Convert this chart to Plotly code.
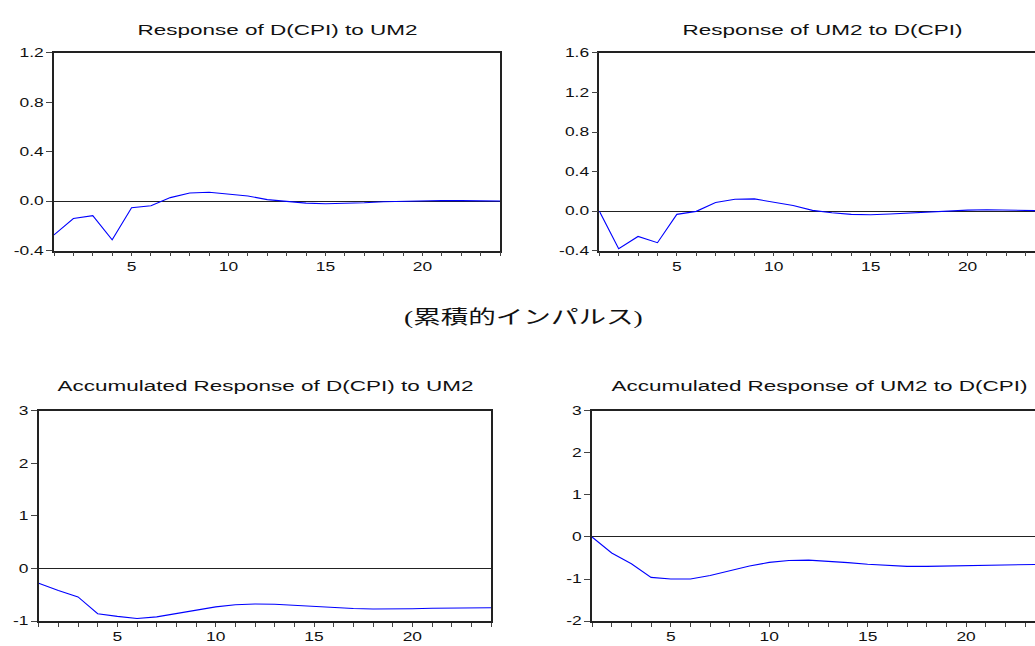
import plotly.graph_objects as go

# Forecast horizon (periods)
periods = list(range(1, 25))

# Impulse responses
resp_cpi_to_um2 = [-0.273, -0.14, -0.117, -0.313, -0.053, -0.037, 0.029, 0.066, 0.072, 0.058,
                   0.042, 0.013, -0.003, -0.016, -0.021, -0.019, -0.013, -0.005, 0.0, 0.005,
                   0.006, 0.005, 0.003, 0.001]
resp_um2_to_cpi = [0.0, -0.38, -0.257, -0.32, -0.033, -0.003, 0.087, 0.12, 0.123, 0.09,
                   0.057, 0.007, -0.017, -0.033, -0.037, -0.03, -0.02, -0.007, 0.003, 0.01,
                   0.013, 0.01, 0.007, 0.003]

# Accumulated impulse responses
acc_cpi_to_um2 = [-0.28, -0.42, -0.54, -0.86, -0.91, -0.95, -0.92, -0.86, -0.79, -0.73,
                  -0.69, -0.675, -0.68, -0.70, -0.725, -0.745, -0.76, -0.77, -0.77, -0.765,
                  -0.755, -0.75, -0.745, -0.745]
acc_um2_to_cpi = [0.0, -0.38, -0.636, -0.96, -1.0, -1.0, -0.915, -0.80, -0.69, -0.605,
                  -0.56, -0.55, -0.575, -0.61, -0.65, -0.68, -0.70, -0.70, -0.69, -0.68,
                  -0.67, -0.66, -0.65, -0.65]

titles = ["Response of D(CPI) to UM2", "Response of UM2 to D(CPI)",
          "Accumulated Response of D(CPI) to UM2", "Accumulated Response of UM2 to D(CPI)"]
caption = "(累積的インパルス)"

y_ticks_top_left = [-0.4, 0.0, 0.4, 0.8, 1.2]
y_ticks_top_right = [-0.4, 0.0, 0.4, 0.8, 1.2, 1.6]
y_ticks_bottom_left = [-1, 0, 1, 2, 3]
y_ticks_bottom_right = [-2, -1, 0, 1, 2, 3]

W, H = 1035, 646

def px_x(v):
    return v / W

def px_y(v):
    return 1 - v / H

# panel boxes in pixels: (left, right, top, bottom)
boxes = [
    (54, 500, 47, 249),
    (599.3, 1035, 47, 249),
    (38.7, 491, 412.7, 627.7),
    (592, 1035, 412.7, 627.7),
]
x_ranges = [[1, 24], [1, 23.48], [1, 24], [1, 23.5]]
y_ranges = [[-0.4, 1.2], [-0.4, 1.6], [-1, 3], [-2, 3]]
y_tickvals = [y_ticks_top_left, y_ticks_top_right, y_ticks_bottom_left, y_ticks_bottom_right]
y_ticktext = [
    [f"{v:.1f}" for v in y_ticks_top_left],
    [f"{v:.1f}" for v in y_ticks_top_right],
    [str(v) for v in y_ticks_bottom_left],
    [str(v) for v in y_ticks_bottom_right],
]
series = [resp_cpi_to_um2, resp_um2_to_cpi, acc_cpi_to_um2, acc_um2_to_cpi]
title_centers = [(277, 23), (822, 23), (265, 387), (819, 387)]

tick_font = dict(family="Liberation Sans, Arial, sans-serif", size=12, color="#111")
title_font = dict(family="Liberation Sans, Arial, sans-serif", size=15.5, color="#111")

fig = go.Figure()
layout = dict(
    width=W, height=H,
    margin=dict(l=0, r=0, t=0, b=0),
    paper_bgcolor="white", plot_bgcolor="white",
    showlegend=False,
    annotations=[],
)

x_tickvals = periods
x_ticktext = [str(p) if p % 5 == 0 else "" for p in periods]

for i in range(4):
    n = "" if i == 0 else str(i + 1)
    l, r, t, b = boxes[i]
    right_cut = i in (1, 3)
    layout["xaxis" + n] = dict(
        domain=[px_x(l), px_x(r)], range=x_ranges[i], anchor="y" + n,
        tickvals=x_tickvals, ticktext=x_ticktext,
        ticks="outside", ticklen=4, tickwidth=1, tickcolor="#444",
        showline=True, linecolor="#222", linewidth=1.6, mirror=True,
        showgrid=False, zeroline=False, tickfont=tick_font, fixedrange=True,
    )
    layout["yaxis" + n] = dict(
        domain=[px_y(b), px_y(t)], range=y_ranges[i], anchor="x" + n,
        tickvals=y_tickvals[i], ticktext=y_ticktext[i],
        ticks="outside", ticklen=6, tickwidth=1, tickcolor="#444",
        showline=True, linecolor="#222", linewidth=1.6,
        mirror=False if right_cut else True,
        showgrid=False, zeroline=True, zerolinecolor="#222", zerolinewidth=1,
        tickfont=tick_font, fixedrange=True,
    )
    fig.add_trace(go.Scatter(
        x=periods, y=series[i], mode="lines",
        line=dict(color="#0000FF", width=1.1),
        xaxis="x" + n, yaxis="y" + n, hoverinfo="skip",
    ))
    cx, cy = title_centers[i]
    layout["annotations"].append(dict(
        text=titles[i], x=px_x(cx), y=px_y(cy), xref="paper", yref="paper",
        xanchor="center", yanchor="middle", showarrow=False, font=title_font,
    ))

layout["annotations"].append(dict(
    text=caption, x=px_x(523), y=px_y(318), xref="paper", yref="paper",
    xanchor="center", yanchor="middle", showarrow=False,
    font=dict(family="Liberation Serif, Noto Sans CJK JP, serif", size=19, color="#111"),
))

fig.update_layout(**layout)

# Widen all labels horizontally (the graph's lettering is set wide)
stretch_js = """
var gd = document.getElementById('{plot_id}');
var k = 1.45;
gd.querySelectorAll('.xaxislayer-above text, .yaxislayer-above text, .annotation-text').forEach(function (t) {
    var w = t.getComputedTextLength();
    if (w > 0) {
        t.setAttribute('textLength', (w * k).toFixed(2));
        t.setAttribute('lengthAdjust', 'spacingAndGlyphs');
    }
});
"""

fig.write_html("out.html", config={"displayModeBar": False}, post_script=stretch_js)
